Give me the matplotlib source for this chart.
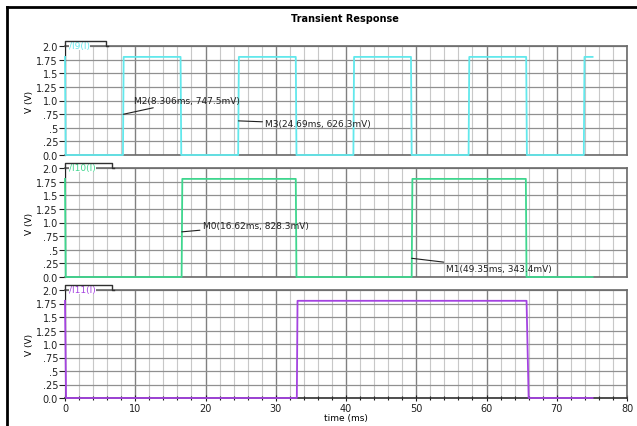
import matplotlib
matplotlib.use("Agg")
import matplotlib.pyplot as plt
from matplotlib.lines import Line2D
from matplotlib.ticker import MultipleLocator, FixedLocator

# --- data ---
cyan_t = [0.0, 0.1, 8.25, 8.35, 16.45, 16.55, 24.65, 24.75, 32.85, 32.95, 41.05, 41.15,
          49.25, 49.35, 57.45, 57.55, 65.65, 65.75, 73.85, 73.95, 75.1]
cyan_v = [1.8, 0.0, 0.0, 1.8, 1.8, 0.0, 0.0, 1.8, 1.8, 0.0, 0.0, 1.8,
          1.8, 0.0, 0.0, 1.8, 1.8, 0.0, 0.0, 1.8, 1.8]
green_t = [0.0, 0.1, 16.6, 16.7, 32.85, 32.95, 49.35, 49.45, 65.6, 65.7, 75.1]
green_v = [1.8, 0.0, 0.0, 1.8, 1.8, 0.0, 0.0, 1.8, 1.8, 0.0, 0.0]
purple_t = [0.0, 0.15, 33.0, 33.1, 65.7, 66.0, 75.1]
purple_v = [1.8, 0.0, 0.0, 1.8, 1.8, 0.0, 0.0]

names = ["/I9(I)", "/I10(I)", "/I11(I)"]
colors = ["#62e8ec", "#3fd68e", "#a443e0"]
ytick_vals = [0, 0.25, 0.5, 0.75, 1.0, 1.25, 1.5, 1.75, 2.0]
ytick_labels = ["0.0", ".25", ".5", ".75", "1.0", "1.25", "1.5", "1.75", "2.0"]

# markers: (panel, t, v, label, text t, text v)
markers = [
    (0, 8.306, 0.7475, "M2(8.306ms, 747.5mV)", 9.8, 1.0),
    (0, 24.69, 0.6263, "M3(24.69ms, 626.3mV)", 28.5, 0.57),
    (1, 16.62, 0.8283, "M0(16.62ms, 828.3mV)", 19.6, 0.95),
    (1, 49.35, 0.3434, "M1(49.35ms, 343.4mV)", 54.3, 0.15),
]

W, H = 637, 427
fig = plt.figure(figsize=(W / 100, H / 100), dpi=100)
left, right = 65, 627
tops = [47, 169, 291]
bots = [156, 278, 399]
tab_w = [41, 47, 47]

series = [(cyan_t, cyan_v), (green_t, green_v), (purple_t, purple_v)]
axes = []
for i in range(3):
    ax = fig.add_axes([left / W, 1 - bots[i] / H, (right - left) / W, (bots[i] - tops[i]) / H])
    axes.append(ax)
    ax.set_xlim(0, 80)
    ax.set_ylim(0, 2.0)
    ax.xaxis.set_major_locator(MultipleLocator(10))
    ax.xaxis.set_minor_locator(MultipleLocator(2))
    ax.yaxis.set_major_locator(FixedLocator(ytick_vals))
    ax.set_yticklabels(ytick_labels)
    ax.grid(which="minor", axis="x", color="#c8c8c8", lw=0.8)
    ax.grid(which="major", axis="x", color="#808080", lw=1.0)
    ax.grid(which="major", axis="y", color="#909090", lw=0.9)
    ax.set_axisbelow(True)
    for s in ["top", "right", "bottom"]:
        ax.spines[s].set_color("#6a6a6a")
        ax.spines[s].set_linewidth(1.2)
    ax.spines["left"].set_color("#202020")
    ax.tick_params(axis="y", labelsize=7, length=4, width=0.8, pad=1, colors="#202020")
    ax.set_ylabel("V (V)", fontsize=6.5, labelpad=2)
    t, v = series[i]
    ax.plot(t, v, color=colors[i], lw=1.3, zorder=3, clip_on=False)
    # legend tab above the frame
    tw = tab_w[i] / (right - left)
    th = 5 / (bots[i] - tops[i])
    ax.text(0.007, 1.0 + th * 0.05, names[i], transform=ax.transAxes, color=colors[i],
            fontsize=6.5, va="center", ha="left", zorder=5,
            bbox=dict(facecolor="white", edgecolor="none", pad=0.0))
    ax.plot([0, 0, tw, tw, tw + 0.004], [1, 1 + th, 1 + th, 1, 1], transform=ax.transAxes,
            color="#303030", lw=1.0, clip_on=False, zorder=6)
    if i < 2:
        ax.tick_params(axis="x", which="both", bottom=False, labelbottom=False)
    else:
        ax.tick_params(axis="x", which="major", direction="inout", length=5, width=0.8,
                       labelsize=7, pad=1, colors="#202020")
        ax.tick_params(axis="x", which="minor", direction="inout", length=3, width=0.8,
                       colors="#202020")
        ax.spines["bottom"].set_color("#303030")
        ax.set_xlabel("time (ms)", fontsize=6.5, labelpad=0)

for p, tm, vm, lab, tx, ty in markers:
    axes[p].annotate(lab, xy=(tm, vm), xytext=(tx, ty), fontsize=6.5, va="center", ha="left",
                     color="#202020",
                     arrowprops=dict(arrowstyle="-", color="#202020", lw=0.8,
                                     shrinkA=0, shrinkB=0))

fig.text(345 / W, 1 - 19 / H, "Transient Response", ha="center", va="center",
         fontsize=7, fontweight="bold")

# window border (top and left)
fig.add_artist(Line2D([7 / W, 1], [1 - 8 / H, 1 - 8 / H], color="black", lw=2.0))
fig.add_artist(Line2D([7 / W, 7 / W], [0, 1 - 8 / H], color="black", lw=2.0))

fig.savefig("out.png", dpi=100)
